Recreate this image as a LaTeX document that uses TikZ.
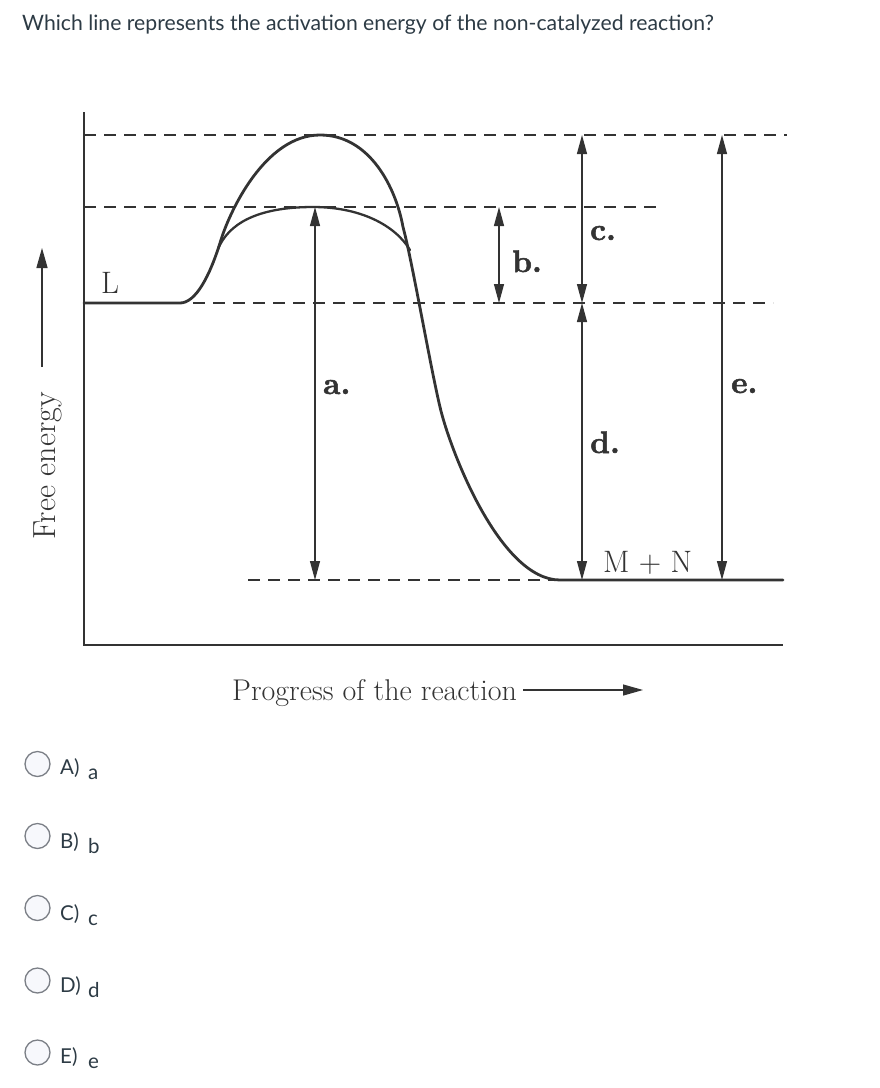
\documentclass[tikz,border=0pt]{standalone}
\usepackage{fontspec}
\newfontfamily\lato{Lato}
\newfontfamily\lblfont{lmroman10-bold.otf}[FakeBold=1.6]
\usetikzlibrary{arrows.meta}
\definecolor{ink}{HTML}{333333}
\definecolor{qtext}{HTML}{2D3B45}
\definecolor{radiofill}{HTML}{F7F8FC}
\definecolor{radiodraw}{HTML}{7B7F86}
\tikzset{
  curve/.style={draw=ink, line width=2.8pt, line cap=round, line join=round},
  catcurve/.style={draw=ink, line width=2.3pt, line cap=round},
  axisline/.style={draw=ink, line width=1.6pt},
  dashline/.style={draw=ink, line width=1.5pt, dash pattern=on 12pt off 8pt},
  dimarrow/.style={draw=ink, line width=1.2pt, {Triangle[length=19pt,width=10pt]}-{Triangle[length=19pt,width=10pt]}},
  axarrow/.style={draw=ink, line width=1.3pt, -{Triangle[length=20pt,width=11pt]}},
  lbl/.style={inner sep=0pt, anchor=base west, text=ink, font=\lblfont\fontsize{31}{31}\selectfont},
  plain/.style={inner sep=0pt, anchor=base west, text=ink, font=\fontsize{31}{31}\selectfont},
  radio/.style={circle, draw=radiodraw, fill=radiofill, line width=1.3pt, minimum size=25pt, inner sep=0pt},
  opt/.style={inner sep=0pt, anchor=base west, text=qtext, font=\lato\fontsize{20.5}{20.5}\selectfont},
}
\begin{document}
\begin{tikzpicture}[x=1pt, y=-1pt]
\useasboundingbox (0,0) rectangle (880,1088);
% title
\node[inner sep=0pt, anchor=base west, text=qtext, font=\lato\fontsize{21.2}{21.2}\selectfont] (title) at (22,30)
  {Which line represents the activation energy of the non-catalyzed reaction?};
% axes
\coordinate (axTop) at (84,112);
\coordinate (axOrig) at (84,645);
\coordinate (axRight) at (783,645);
\draw[axisline] (axTop) -- (axOrig) -- (axRight);
% dashed levels
\coordinate (d1a) at (84,135); \coordinate (d1b) at (787,135);
\coordinate (d2a) at (84,207); \coordinate (d2b) at (660,207);
\coordinate (d3a) at (193,303); \coordinate (d3b) at (773,303);
\coordinate (d4a) at (248,580); \coordinate (d4b) at (553,580);
\draw[dashline] (d1a) -- (d1b);
\draw[dashline] (d2a) -- (d2b);
\draw[dashline] (d3a) -- (d3b);
\draw[dashline] (d4a) -- (d4b);
% uncatalyzed curve
\coordinate (Lstart) at (84,303);
\coordinate (Lend) at (180,303);
\coordinate (rise) at (220,243);
\coordinate (peak) at (320,135);
\coordinate (fall) at (403,227);
\coordinate (mid) at (440,407);
\coordinate (prod) at (560,580);
\coordinate (Rend) at (783,580);
\draw[curve] (Lstart) -- (Lend)
  .. controls (196,303) and (210,275) .. (rise)
  .. controls (229,212) and (265,135) .. (peak)
  .. controls (370,135) and (396,188) .. (fall)
  .. controls (412,260) and (430,365) .. (mid)
  .. controls (450,450) and (500,580) .. (prod)
  -- (Rend);
% catalyzed curve
\coordinate (cStart) at (218,249);
\coordinate (cTop) at (313,207);
\coordinate (cEnd) at (410,250);
\draw[catcurve] (cStart) .. controls (228,225) and (255,207) .. (cTop)
  .. controls (360,207) and (395,225) .. (cEnd);
% dimension arrows
\coordinate (aT) at (315,207); \coordinate (aB) at (315,580);
\coordinate (bT) at (499,207); \coordinate (bB) at (499,303);
\coordinate (cT) at (582,135); \coordinate (cB) at (582,303);
\coordinate (dT) at (582,303); \coordinate (dB) at (582,580);
\coordinate (eT) at (722,135); \coordinate (eB) at (722,580);
\draw[dimarrow] (aT) -- (aB);
\draw[dimarrow] (bT) -- (bB);
\draw[dimarrow] (cT) -- (cB);
\draw[dimarrow] (dT) -- (dB);
\draw[dimarrow] (eT) -- (eB);
% labels
\node[lbl] (la) at (323,394) {a.};
\node[lbl] (lb) at (512,272) {b.};
\node[lbl] (lc) at (590,240) {c.};
\node[lbl] (ld) at (590,453) {d.};
\node[lbl] (le) at (731,393) {e.};
\node[plain] (lL) at (101,293) {L};
\node[plain] (lMN) at (603,572) {M + N};
% axis titles
\node[plain, rotate=90, font=\fontsize{32}{32}\selectfont] (fe) at (55,540) {Free energy};
\coordinate (feA) at (42,367); \coordinate (feB) at (42,248);
\draw[axarrow] (feA) -- (feB);
\node[plain, font=\fontsize{30}{30}\selectfont] (prog) at (232,700) {Progress of the reaction};
\coordinate (prA) at (523,690); \coordinate (prB) at (643,690);
\draw[axarrow] (prA) -- (prB);
% options
\node[radio] (rA) at (37.5,764) {};
\node[radio] (rB) at (37.5,836) {};
\node[radio] (rC) at (37.5,908) {};
\node[radio] (rD) at (37.5,980.5) {};
\node[radio] (rE) at (37.5,1052.5) {};
\node[opt] (oA) at (60,774) {A)};  \node[opt] (vA) at (88,779) {a};
\node[opt] (oB) at (60,848) {B)};  \node[opt] (vB) at (88,853) {b};
\node[opt] (oC) at (60,920) {C)};  \node[opt] (vC) at (88,925) {c};
\node[opt] (oD) at (60,992) {D)};  \node[opt] (vD) at (88,997) {d};
\node[opt] (oE) at (60,1063) {E)}; \node[opt] (vE) at (88,1068) {e};
\end{tikzpicture}
\end{document}
